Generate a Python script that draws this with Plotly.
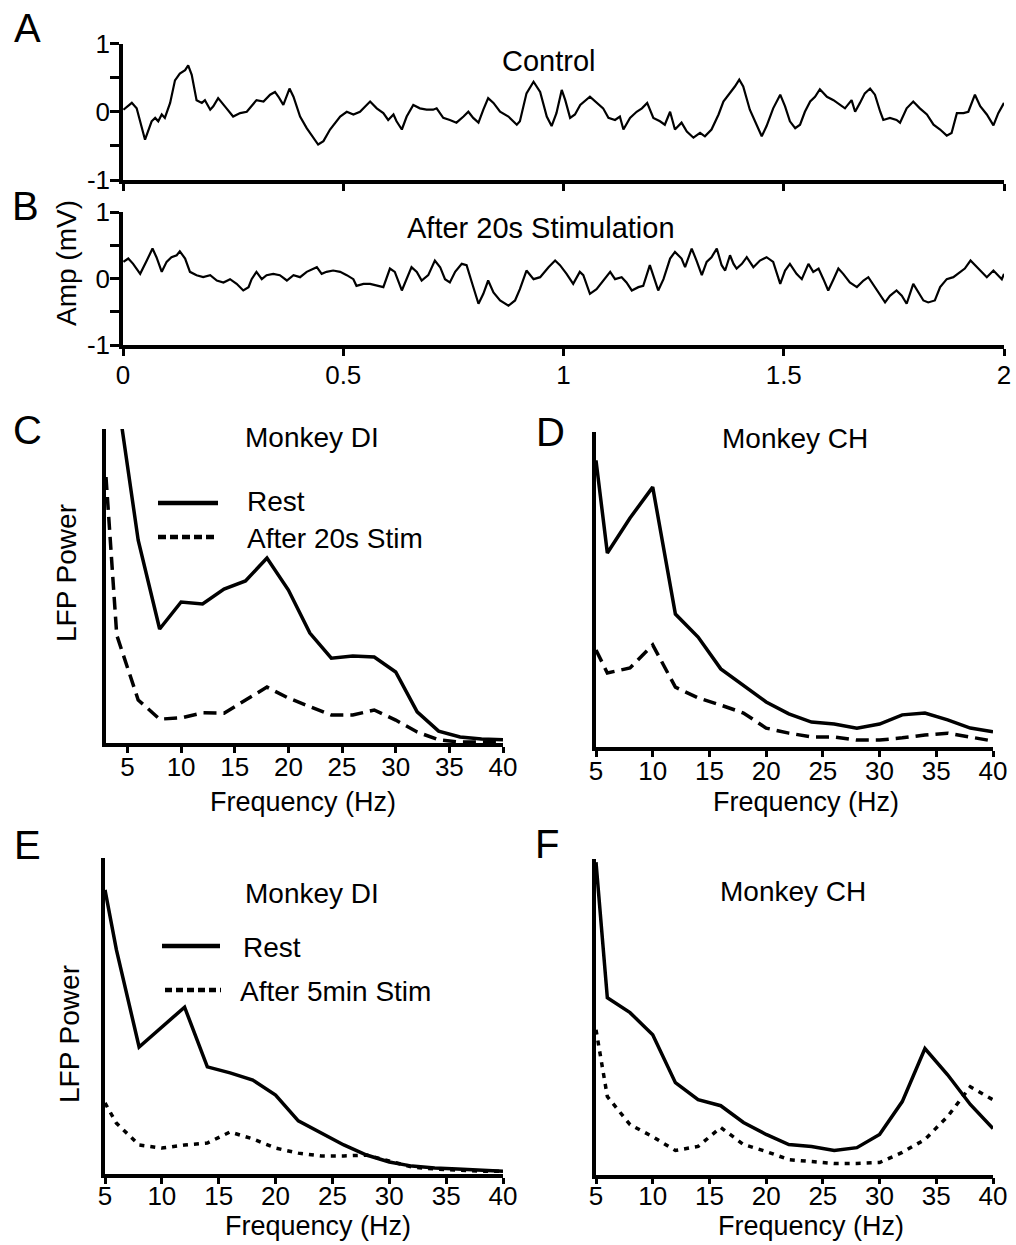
import plotly.graph_objects as go

W, H = 1016, 1245

# ---------------- Data ----------------
# A: Control LFP trace (time s, amplitude mV)
ctrl_t = [0.001, 0.020, 0.031, 0.050, 0.065, 0.073, 0.080, 0.088, 0.095, 0.107, 0.118, 0.129, 0.141, 0.148,
          0.156, 0.167, 0.179, 0.186, 0.198, 0.205, 0.216, 0.224, 0.235, 0.250, 0.266, 0.281, 0.292, 0.303,
          0.319, 0.334, 0.345, 0.353, 0.364, 0.378, 0.387, 0.402, 0.417, 0.432, 0.443, 0.455, 0.470, 0.493,
          0.508, 0.523, 0.538, 0.561, 0.576, 0.591, 0.602, 0.614, 0.621, 0.633, 0.644, 0.659, 0.674, 0.689,
          0.704, 0.712, 0.727, 0.742, 0.757, 0.773, 0.784, 0.795, 0.807, 0.818, 0.829, 0.841, 0.856, 0.875,
          0.894, 0.901, 0.916, 0.932, 0.947, 0.962, 0.973, 0.984, 0.996, 1.004, 1.015, 1.026, 1.038, 1.060,
          1.075, 1.090, 1.102, 1.117, 1.128, 1.136, 1.151, 1.166, 1.178, 1.190, 1.204, 1.219, 1.230, 1.242,
          1.253, 1.268, 1.280, 1.295, 1.310, 1.321, 1.336, 1.352, 1.363, 1.378, 1.389, 1.399, 1.408, 1.423,
          1.439, 1.450, 1.461, 1.476, 1.492, 1.503, 1.514, 1.526, 1.537, 1.548, 1.560, 1.571, 1.582, 1.598,
          1.613, 1.628, 1.639, 1.654, 1.662, 1.673, 1.684, 1.696, 1.707, 1.719, 1.726, 1.741, 1.756, 1.764,
          1.779, 1.794, 1.809, 1.825, 1.840, 1.855, 1.870, 1.881, 1.893, 1.908, 1.919, 1.934, 1.946, 1.961,
          1.976, 1.987, 2.000]
ctrl_v = [0.03, 0.13, 0.05, -0.41, -0.14, -0.09, -0.14, -0.04, -0.09, 0.13, 0.46, 0.56, 0.61, 0.68,
          0.54, 0.17, 0.13, 0.17, 0.03, 0.08, 0.20, 0.13, 0.05, -0.07, -0.02, 0.00, 0.08, 0.17,
          0.15, 0.25, 0.29, 0.22, 0.10, 0.34, 0.22, -0.07, -0.24, -0.38, -0.48, -0.43, -0.26, -0.07,
          0.00, -0.04, 0.00, 0.15, 0.05, -0.02, -0.12, -0.04, -0.14, -0.26, -0.07, 0.10, 0.05, 0.03,
          0.03, 0.05, -0.09, -0.12, -0.16, -0.07, 0.00, -0.09, -0.16, 0.03, 0.20, 0.13, 0.00, -0.07,
          -0.19, -0.14, 0.27, 0.44, 0.29, -0.07, -0.21, -0.02, 0.32, 0.17, -0.09, -0.04, 0.10, 0.22,
          0.13, 0.05, -0.09, -0.12, -0.07, -0.26, -0.09, 0.00, 0.05, 0.13, -0.09, -0.14, -0.19, 0.00,
          -0.26, -0.16, -0.29, -0.38, -0.31, -0.36, -0.26, -0.04, 0.15, 0.27, 0.37, 0.47, 0.37, 0.03,
          -0.21, -0.36, -0.21, 0.05, 0.25, 0.08, -0.14, -0.24, -0.19, 0.00, 0.15, 0.22, 0.33, 0.22,
          0.17, 0.10, 0.05, 0.17, 0.00, 0.13, 0.27, 0.34, 0.25, 0.00, -0.12, -0.09, -0.12, -0.16,
          0.05, 0.15, 0.05, -0.04, -0.19, -0.26, -0.35, -0.31, -0.02, -0.02, 0.00, 0.25, 0.08, -0.04,
          -0.20, -0.02, 0.13]

# B: After 20 s stimulation LFP trace
stim_t = [0.001, 0.012, 0.023, 0.039, 0.054, 0.067, 0.076, 0.088, 0.099, 0.110, 0.122, 0.129, 0.141, 0.152,
          0.167, 0.182, 0.198, 0.213, 0.228, 0.243, 0.258, 0.273, 0.285, 0.292, 0.303, 0.315, 0.326, 0.341,
          0.356, 0.372, 0.387, 0.402, 0.417, 0.440, 0.451, 0.462, 0.477, 0.493, 0.508, 0.523, 0.530, 0.546,
          0.561, 0.576, 0.591, 0.606, 0.617, 0.633, 0.644, 0.655, 0.667, 0.678, 0.693, 0.708, 0.720, 0.731,
          0.742, 0.754, 0.769, 0.780, 0.792, 0.807, 0.818, 0.829, 0.841, 0.856, 0.875, 0.890, 0.901, 0.916,
          0.932, 0.947, 0.966, 0.981, 0.992, 1.007, 1.022, 1.037, 1.045, 1.060, 1.075, 1.090, 1.106, 1.117,
          1.132, 1.143, 1.155, 1.170, 1.181, 1.196, 1.204, 1.215, 1.227, 1.242, 1.253, 1.268, 1.276, 1.291,
          1.302, 1.314, 1.325, 1.336, 1.348, 1.359, 1.367, 1.378, 1.386, 1.393, 1.405, 1.416, 1.431, 1.446,
          1.461, 1.476, 1.492, 1.503, 1.514, 1.529, 1.541, 1.556, 1.567, 1.579, 1.590, 1.601, 1.613, 1.624,
          1.635, 1.650, 1.666, 1.681, 1.692, 1.707, 1.719, 1.730, 1.741, 1.756, 1.768, 1.779, 1.794, 1.806,
          1.817, 1.828, 1.843, 1.855, 1.870, 1.885, 1.900, 1.911, 1.924, 1.938, 1.949, 1.961, 1.976, 1.987,
          1.995, 2.000]
stim_v = [0.25, 0.30, 0.22, 0.07, 0.27, 0.45, 0.32, 0.10, 0.25, 0.32, 0.35, 0.41, 0.30, 0.10,
          0.05, 0.02, 0.05, -0.03, -0.06, -0.01, -0.08, -0.18, -0.13, -0.01, 0.10, -0.01, 0.05, 0.07,
          0.05, -0.03, 0.05, 0.02, 0.10, 0.17, 0.07, 0.10, 0.12, 0.10, 0.05, -0.01, -0.11, -0.08,
          -0.08, -0.11, -0.13, 0.15, 0.10, -0.18, -0.01, 0.17, 0.10, -0.03, 0.05, 0.27, 0.17, -0.01,
          -0.06, 0.10, 0.22, 0.20, -0.06, -0.38, -0.23, -0.03, -0.21, -0.33, -0.41, -0.33, -0.16, 0.12,
          -0.01, 0.02, 0.17, 0.27, 0.20, 0.07, -0.08, 0.10, 0.05, -0.23, -0.16, -0.03, 0.10, -0.01,
          0.02, -0.06, -0.18, -0.13, -0.11, 0.20, 0.05, -0.18, -0.01, 0.30, 0.40, 0.30, 0.17, 0.45,
          0.27, 0.05, 0.25, 0.32, 0.45, 0.20, 0.12, 0.35, 0.22, 0.15, 0.22, 0.32, 0.17, 0.27,
          0.32, 0.25, -0.08, 0.12, 0.22, 0.07, -0.01, 0.22, 0.10, 0.15, -0.01, -0.18, -0.01, 0.15,
          0.07, -0.06, -0.13, -0.03, 0.02, -0.13, -0.23, -0.36, -0.26, -0.18, -0.26, -0.38, -0.08, -0.21,
          -0.33, -0.36, -0.33, -0.13, -0.01, 0.02, 0.10, 0.15, 0.27, 0.17, 0.10, 0.02, 0.12, 0.05,
          -0.01, 0.07]

# C: Monkey DI, rest vs after 20 s stim (arbitrary power units)
c_rest_f = [4, 6, 8, 10, 12, 14, 16, 18, 20, 22, 24, 26, 28, 30, 32, 34, 36, 38, 40]
c_rest_p = [112, 64.6, 36.3, 44.9, 44.3, 49.0, 51.6, 58.9, 48.7, 35.0, 27.0, 27.7, 27.4, 22.6, 9.9, 3.8, 1.9, 1.3, 1.0]
c_stim_f = [3, 4, 6, 8, 10, 12, 14, 16, 18, 20, 22, 24, 26, 28, 30, 32, 34, 36, 38, 40]
c_stim_p = [84.7, 34.4, 13.7, 7.6, 8.0, 9.6, 9.5, 13.7, 17.8, 14.3, 11.5, 8.9, 8.9, 10.5, 7.3, 3.5, 1.0, 0.3, 0.3, 0.3]

# D, E, F share the frequency grid
freq = [5, 6, 8, 10, 12, 14, 16, 18, 20, 22, 24, 26, 28, 30, 32, 34, 36, 38, 40]
d_rest = [91, 61.6, 72.7, 82.5, 42.2, 34.9, 24.8, 19.7, 14.3, 10.5, 7.9, 7.3, 6.0, 7.3, 10.2, 10.8, 8.6, 6.0, 4.8]
d_stim = [30.8, 23.5, 25.1, 32.4, 19.0, 15.6, 13.3, 10.8, 6.0, 4.4, 3.2, 3.2, 2.2, 2.2, 2.9, 3.8, 4.4, 3.2, 1.9]
e_rest = [89.9, 71.0, 40.2, 46.5, 52.8, 33.9, 32.0, 29.7, 25.0, 16.8, 13.0, 9.2, 6.0, 3.8, 2.5, 1.9, 1.6, 1.3, 0.9]
e_stim = [22.5, 16.1, 9.2, 8.2, 9.2, 9.8, 13.3, 11.1, 8.2, 6.6, 5.7, 5.7, 6.0, 4.1, 2.2, 1.6, 1.3, 0.9, 0.9]
f_rest = [99, 56.0, 51.3, 44.3, 29.1, 23.7, 21.8, 16.5, 12.7, 9.5, 8.9, 7.6, 8.5, 12.7, 23.1, 39.9, 31.6, 22.2, 14.6]
f_stim = [45.9, 24.7, 15.8, 12.0, 7.6, 8.9, 14.9, 9.5, 7.3, 4.7, 4.1, 3.5, 3.5, 3.8, 7.0, 11.1, 18.4, 27.8, 23.7]

time_ticks = [0, 0.5, 1, 1.5, 2]
time_labels = ["0", "0.5", "1", "1.5", "2"]
amp_ticks = [-1, -0.5, 0, 0.5, 1]
amp_labels = ["-1", "", "0", "", "1"]
freq_ticks = [5, 10, 15, 20, 25, 30, 35, 40]

# ---------------- Figure ----------------
FONT = "Liberation Sans, Arial, sans-serif"
fig = go.Figure()

def px2x(px):
    return px / W

def py2y(py):
    return 1 - py / H

trace_w = 2.2
spec_w = 3.5
dash_c = "13px,7px"
dot_e = "5px,6px"

fig.add_trace(go.Scatter(x=ctrl_t, y=ctrl_v, mode="lines", line=dict(color="black", width=trace_w),
                         xaxis="x", yaxis="y"))
fig.add_trace(go.Scatter(x=stim_t, y=stim_v, mode="lines", line=dict(color="black", width=trace_w),
                         xaxis="x2", yaxis="y2"))
fig.add_trace(go.Scatter(x=c_rest_f, y=c_rest_p, mode="lines", line=dict(color="black", width=spec_w),
                         xaxis="x3", yaxis="y3"))
fig.add_trace(go.Scatter(x=c_stim_f, y=c_stim_p, mode="lines",
                         line=dict(color="black", width=spec_w, dash=dash_c), xaxis="x3", yaxis="y3"))
fig.add_trace(go.Scatter(x=freq, y=d_rest, mode="lines", line=dict(color="black", width=spec_w),
                         xaxis="x4", yaxis="y4"))
fig.add_trace(go.Scatter(x=freq, y=d_stim, mode="lines",
                         line=dict(color="black", width=spec_w, dash=dash_c), xaxis="x4", yaxis="y4"))
fig.add_trace(go.Scatter(x=freq, y=e_rest, mode="lines", line=dict(color="black", width=spec_w),
                         xaxis="x5", yaxis="y5"))
fig.add_trace(go.Scatter(x=freq, y=e_stim, mode="lines",
                         line=dict(color="black", width=spec_w, dash=dot_e), xaxis="x5", yaxis="y5"))
fig.add_trace(go.Scatter(x=freq, y=f_rest, mode="lines", line=dict(color="black", width=spec_w),
                         xaxis="x6", yaxis="y6"))
fig.add_trace(go.Scatter(x=freq, y=f_stim, mode="lines",
                         line=dict(color="black", width=spec_w, dash=dot_e), xaxis="x6", yaxis="y6"))

tickfont = dict(family=FONT, size=26, color="black")
common = dict(showline=True, linecolor="black", linewidth=3.5, showgrid=False, zeroline=False,
              ticks="outside", tickcolor="black", tickwidth=3, tickfont=tickfont, fixedrange=True,
              automargin=False)

def time_x(domain, anchor, labels):
    return dict(common, domain=domain, anchor=anchor, range=[0, 2], tickmode="array",
                tickvals=time_ticks, ticktext=time_labels, showticklabels=labels, ticklen=7,
                ticklabelstandoff=-3)

def amp_y(domain, anchor):
    return dict(common, domain=domain, anchor=anchor, range=[-1, 1], tickmode="array",
                tickvals=amp_ticks, ticktext=amp_labels, ticklen=9, ticklabelstandoff=-5)

def freq_x(domain, anchor, rng, standoff=-8):
    return dict(common, domain=domain, anchor=anchor, range=rng, tickmode="array",
                tickvals=freq_ticks, ticklen=6, ticklabelstandoff=standoff)

def pow_y(domain, anchor):
    d = dict(common, domain=domain, anchor=anchor, range=[0, 100], showticklabels=False)
    d["ticks"] = ""
    return d

xA = [px2x(123), px2x(1004)]
xC = [px2x(106), px2x(503)]
xD = [px2x(596), px2x(993)]
xE = [px2x(105), px2x(503)]

fig.update_layout(
    width=W, height=H, margin=dict(l=0, r=0, t=0, b=0, pad=0, autoexpand=False),
    paper_bgcolor="white", plot_bgcolor="white", showlegend=False,
    font=dict(family=FONT, color="black"),
    xaxis=time_x(xA, "y", False),
    yaxis=amp_y([py2y(180), py2y(43.5)], "x"),
    xaxis2=time_x(xA, "y2", True),
    yaxis2=amp_y([py2y(345), py2y(212)], "x2"),
    xaxis3=freq_x(xC, "y3", [3, 40]),
    yaxis3=pow_y([py2y(743), py2y(429)], "x3"),
    xaxis4=freq_x(xD, "y4", [5, 40]),
    yaxis4=pow_y([py2y(747), py2y(432)], "x4"),
    xaxis5=freq_x(xE, "y5", [5, 40], -10),
    yaxis5=pow_y([py2y(1174), py2y(858)], "x5"),
    xaxis6=freq_x(xD, "y6", [5, 40], -10),
    yaxis6=pow_y([py2y(1174.5), py2y(859)], "x6"),
)

anns = []

def ann(text, px, py, size, xanchor="center", angle=0):
    anns.append(dict(text=text, x=px2x(px), y=py2y(py), xref="paper", yref="paper",
                     xanchor=xanchor, yanchor="middle", showarrow=False, textangle=angle,
                     font=dict(family=FONT, size=size, color="black")))

# panel letters
ann("A", 27, 28, 40)
ann("B", 25, 206, 40)
ann("C", 27, 430, 40)
ann("D", 550, 432, 40)
ann("E", 27, 845, 40)
ann("F", 547, 844, 40)

# titles
ann("Control", 549, 61, 29)
ann("After 20s Stimulation", 541, 228, 29)
ann("Monkey DI", 312, 437, 28)
ann("Monkey CH", 795, 438, 28)
ann("Monkey DI", 312, 893, 28)
ann("Monkey CH", 793, 891, 28)

# axis titles
ann("Amp (mV)", 66, 263, 28, angle=-90)
ann("LFP Power", 66, 573, 28, angle=-90)
ann("LFP Power", 69, 1034, 28, angle=-90)
ann("Frequency (Hz)", 303, 802, 27)
ann("Frequency (Hz)", 806, 802, 27)
ann("Frequency (Hz)", 318, 1226, 27)
ann("Frequency (Hz)", 811, 1226, 27)

# legends (text)
ann("Rest", 245, 501, 28, xanchor="left")
ann("After 20s Stim", 245, 538, 28, xanchor="left")
ann("Rest", 241, 947, 28, xanchor="left")
ann("After 5min Stim", 238, 991, 28, xanchor="left")

fig.update_layout(annotations=anns)

# legend line samples
shapes = []

def legline(x0, x1, py, dash):
    shapes.append(dict(type="line", xref="paper", yref="paper", x0=px2x(x0), x1=px2x(x1),
                       y0=py2y(py), y1=py2y(py), line=dict(color="black", width=4.5, dash=dash)))

legline(158, 218, 503, "solid")
legline(158, 218, 537, "8px,4px")
legline(162, 220, 946, "solid")
legline(165, 221, 990, "7px,4px")
fig.update_layout(shapes=shapes)

fig.write_html("out.html")
